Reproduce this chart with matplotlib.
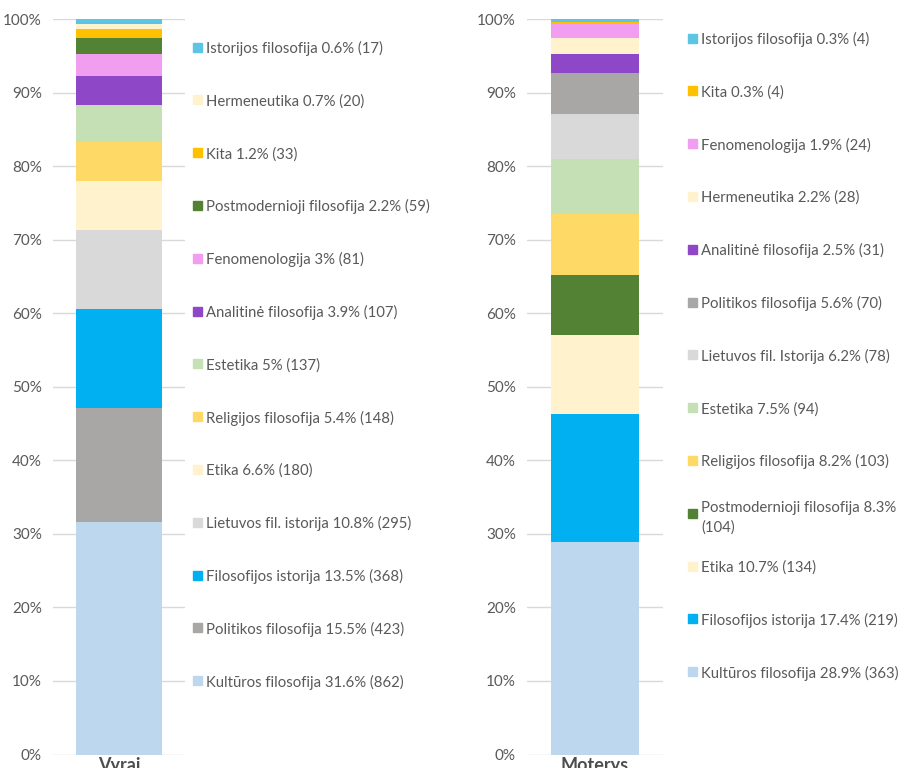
#Program to create two 100% stacked bars of philosophy fields by gender.
import matplotlib.pyplot as plt

# Categories in stack order (bottom to top) and counts for each group.
men_labels = ["Kultūros filosofija", "Politikos filosofija", "Filosofijos istorija",
              "Lietuvos fil. istorija", "Etika", "Religijos filosofija", "Estetika",
              "Analitinė filosofija", "Fenomenologija", "Postmodernioji filosofija",
              "Kita", "Hermeneutika", "Istorijos filosofija"]
men_pct = ["31.6%", "15.5%", "13.5%", "10.8%", "6.6%", "5.4%", "5%",
           "3.9%", "3%", "2.2%", "1.2%", "0.7%", "0.6%"]
men_counts = [862, 423, 368, 295, 180, 148, 137, 107, 81, 59, 33, 20, 17]

women_labels = ["Kultūros filosofija", "Filosofijos istorija", "Etika",
                "Postmodernioji filosofija", "Religijos filosofija", "Estetika",
                "Lietuvos fil. Istorija", "Politikos filosofija", "Analitinė filosofija",
                "Hermeneutika", "Fenomenologija", "Kita", "Istorijos filosofija"]
women_pct = ["28.9%", "17.4%", "10.7%", "8.3%", "8.2%", "7.5%", "6.2%",
             "5.6%", "2.5%", "2.2%", "1.9%", "0.3%", "0.3%"]
women_counts = [363, 219, 134, 104, 103, 94, 78, 70, 31, 28, 24, 4, 4]

# One colour per field.
colors = {
    "Kultūros filosofija": "#BDD7EE",
    "Politikos filosofija": "#A9A6A6",
    "Filosofijos istorija": "#00B0F0",
    "Lietuvos fil. istorija": "#D9D9D9",
    "Lietuvos fil. Istorija": "#D9D9D9",
    "Etika": "#FFF2CC",
    "Religijos filosofija": "#FFD966",
    "Estetika": "#C5E0B4",
    "Analitinė filosofija": "#8E47C6",
    "Fenomenologija": "#F29EF0",
    "Postmodernioji filosofija": "#548235",
    "Kita": "#FFC000",
    "Hermeneutika": "#FFF2CC",
    "Istorijos filosofija": "#5BC5E3",
}

plt.rcParams['font.family'] = ['Lato', 'DejaVu Sans']
TXT = "#595959"
W, H = 902, 768


def draw_group(ax, name, labels, counts, pct, bar_w, leg_x, leg_top, wrap=()):
    total = sum(counts)
    bottom = 0.0
    for lab, c in zip(labels, counts):
        share = c / total * 100
        ax.bar(0, share, bar_w, bottom=bottom, color=colors[lab], zorder=3)
        bottom += share

    ax.set_xlim(-0.5, 0.5)
    ax.set_ylim(0, 100)
    ax.set_yticks(range(0, 101, 10))
    ax.set_yticklabels([f"{v}%" for v in range(0, 101, 10)], color=TXT, fontsize=11)
    ax.set_xticks([0])
    ax.set_xticklabels([name], fontsize=13, fontweight='bold', color="#4D4D4D")
    ax.tick_params(length=0)
    ax.tick_params(axis='y', pad=8)
    ax.tick_params(axis='x', pad=1.5)
    ax.grid(axis='y', color="#D9D9D9", lw=1, zorder=0)
    for s in ax.spines.values():
        s.set_visible(False)

    # Legend: top entry first, evenly spaced like the original.
    step = 52.8
    fig = ax.figure
    for i, k in enumerate(range(len(labels) - 1, -1, -1)):
        y = leg_top + i * step
        fy = 1 - y / H
        fig.patches.append(plt.Rectangle((leg_x / W, fy - 4.5 / H), 9 / W, 9 / H,
                                         transform=fig.transFigure,
                                         color=colors[labels[k]]))
        text = f"{labels[k]} {pct[k]} ({counts[k]})"
        if labels[k] in wrap:
            text = f"{labels[k]} {pct[k]}\n({counts[k]})"
        fig.text((leg_x + 13) / W, fy, text, color=TXT, fontsize=10.7,
                 va='center_baseline', ha='left', linespacing=1.55)


def main():
    fig = plt.figure(figsize=(W / 100, H / 100), dpi=100)
    ax1 = fig.add_axes([53 / W, 13.5 / H, 132 / W, 735.2 / H])
    ax2 = fig.add_axes([527 / W, 13.5 / H, 136 / W, 735.2 / H])

    draw_group(ax1, "Vyrai", men_labels, men_counts, men_pct, 0.644, 193, 47)
    draw_group(ax2, "Moterys", women_labels, women_counts, women_pct, 0.64, 688, 38,
               wrap=("Postmodernioji filosofija",))

    fig.savefig("out.png", dpi=100)


if __name__ == '__main__':
    main()
